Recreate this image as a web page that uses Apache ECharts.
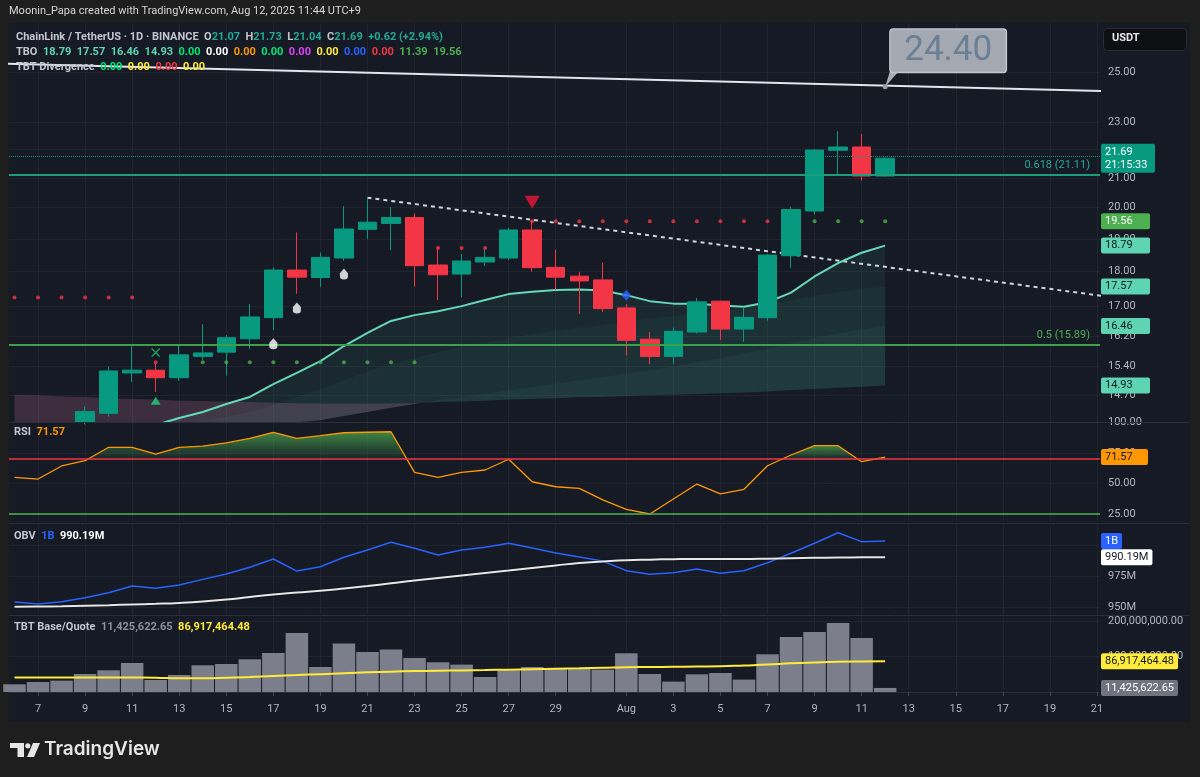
<!DOCTYPE html>
<html>
<head>
<meta charset="utf-8">
<title>LINK/USDT 1D</title>
<script src="https://cdn.jsdelivr.net/npm/echarts@6/dist/echarts.min.js"></script>
<style>
  html, body { margin: 0; padding: 0; background: #1e1e1e; }
  #chart { width: 1200px; height: 777px; }
</style>
</head>
<body>
<div id="chart"></div>
<script>
// day index 0 = Jul 6 2025, the time scale runs on to Aug 21
const days = ['Jul 6','Jul 7','Jul 8','Jul 9','Jul 10','Jul 11','Jul 12','Jul 13','Jul 14','Jul 15','Jul 16','Jul 17','Jul 18','Jul 19','Jul 20','Jul 21','Jul 22','Jul 23','Jul 24','Jul 25','Jul 26','Jul 27','Jul 28','Jul 29','Jul 30','Jul 31','Aug 1','Aug 2','Aug 3','Aug 4','Aug 5','Aug 6','Aug 7','Aug 8','Aug 9','Aug 10','Aug 11','Aug 12'];
const tickDays = [1,3,5,7,9,11,13,15,17,19,21,23,26,28,30,32,34,36,38,40,42,44,46];
const tickLabels = ['7','9','11','13','15','17','19','21','23','25','27','29','Aug','3','5','7','9','11','13','15','17','19','21'];

// candles (first three days sit below the visible price range)
const opens  = [null,null,null,14.06,14.26,15.24,15.31,15.12,15.66,15.77,16.12,16.69,18.05,17.83,18.41,19.30,19.49,19.68,18.20,17.93,18.29,18.41,19.28,18.13,17.87,17.76,16.96,16.11,15.66,16.30,17.15,16.38,16.69,18.48,19.89,21.98,22.10,21.07];
const highs  = [null,null,null,14.42,15.40,15.92,15.51,15.98,16.51,16.22,17.07,18.13,19.20,18.58,20.05,20.30,20.03,19.81,18.75,18.53,18.68,19.35,19.60,18.67,18.00,18.27,17.07,16.30,16.42,17.24,17.16,16.98,18.53,20.03,22.03,22.68,22.58,21.73];
const lows   = [null,null,null,14.00,14.18,15.02,14.77,15.04,15.57,15.17,15.85,16.35,17.36,17.55,18.33,18.99,18.65,17.56,17.18,17.26,18.17,18.35,18.00,17.47,16.79,16.85,15.68,15.46,15.47,16.27,16.09,16.04,16.61,18.12,19.78,21.15,20.91,21.04];
const closes = [null,null,null,14.30,15.29,15.31,15.12,15.70,15.75,16.15,16.71,18.05,17.84,18.43,19.31,19.53,19.68,18.18,17.91,18.32,18.43,19.28,18.12,17.84,17.73,16.94,16.08,15.66,16.32,17.13,16.38,16.70,18.50,19.94,21.99,22.10,21.07,21.69];

// TBO lines, fast to slow
const tboFast = [13.42,13.49,13.56,13.65,13.76,13.88,13.99,14.15,14.29,14.48,14.65,14.96,15.24,15.54,15.93,16.28,16.60,16.76,16.87,17.01,17.18,17.35,17.42,17.47,17.48,17.45,17.32,17.15,17.08,17.08,17.03,16.99,17.12,17.39,17.86,18.26,18.57,18.79];
const tboMid1 = [13.65,13.69,13.74,13.79,13.83,13.90,13.97,14.04,14.09,14.18,14.29,14.46,14.65,14.84,15.06,15.29,15.46,15.62,15.78,15.91,16.03,16.14,16.25,16.34,16.42,16.50,16.58,16.67,16.74,16.81,16.87,16.96,17.07,17.18,17.30,17.41,17.50,17.57];
const tboMid2 = [13.53,13.56,13.58,13.60,13.63,13.65,13.69,13.74,13.79,13.85,13.92,13.99,14.05,14.10,14.20,14.29,14.39,14.48,14.58,14.65,14.73,14.82,14.89,14.98,15.06,15.14,15.23,15.31,15.41,15.52,15.62,15.74,15.85,16.01,16.15,16.27,16.38,16.46];
const tboSlow = [14.70,14.69,14.66,14.65,14.62,14.60,14.59,14.56,14.55,14.54,14.53,14.51,14.50,14.49,14.49,14.49,14.49,14.50,14.53,14.54,14.56,14.59,14.60,14.62,14.64,14.65,14.67,14.69,14.70,14.72,14.74,14.76,14.78,14.82,14.84,14.87,14.90,14.93];

// stop dots [day, price]
const redDots = [[0,17.25],[1,17.25],[2,17.25],[3,17.25],[4,17.25],[5,17.25],[6,15.51],[18,18.72],[19,18.72],[20,18.72],
  [22,19.56],[23,19.56],[24,19.56],[25,19.56],[26,19.56],[27,19.56],[28,19.56],[29,19.56],[30,19.56],[31,19.56],[32,19.56]];
const greenDots = [[8,15.51],[9,15.51],[10,15.51],[11,15.51],[12,15.51],[13,15.51],[14,15.51],[15,15.51],[16,15.51],[17,15.51],
  [34,19.56],[35,19.56],[36,19.56],[37,19.56]];
const stopLevel = 19.56;

// signal markers [day, price]
const crossMarks = [[6,15.76]];
const upMarks = [[6,14.56]];
const dropMarks = [[11,15.99],[12,16.96],[14,17.93]];
const downMarks = [[22,20.18]];
const diamondMarks = [[26,17.32]];

// drawings
const longLine = [[-1,25.36],[47,24.21]];
const calloutPoint = [37,24.40];
const dashedLine = [[15,20.33],[47,17.23]];
const fib618 = 21.11, fib50 = 15.89;
const countdown = '21:15:33';

const priceTicks = [14.7,15.4,16.2,17,18,19,20,21,22,23,25];

// RSI
const rsi = [55.0,53.6,64.3,68.6,79.6,79.6,74.1,79.6,80.6,83.3,86.9,91.9,86.9,89.1,91.5,91.9,92.3,59.1,55.0,59.1,61.0,69.8,51.4,47.3,46.0,36.5,28.8,25.0,37.3,49.5,41.4,45.2,64.5,73.3,80.9,80.9,67.8,71.57];
const rsiHigh = 70, rsiLow = 25;
const rsiTicks = [25,50,75,100];

// OBV, millions
const obv = [954.0,952.4,954.3,957.5,961.5,966.9,965.1,967.7,972.3,976.6,982.0,988.7,979.0,982.5,990.1,996.0,1002.2,997.3,991.9,996.0,998.1,1001.4,997.6,993.5,990.3,987.1,979.3,976.4,977.7,980.6,977.2,979.3,985.7,993.3,1001.4,1009.9,1002.7,1003.2];
const obvMa = [950.2,950.4,950.6,951.0,951.5,952.1,952.6,953.3,954.4,956.0,958.1,960.1,961.7,963.1,964.9,966.9,969.1,971.4,973.4,975.4,977.4,979.4,981.5,983.5,985.5,986.7,987.7,988.2,988.6,988.8,988.8,988.7,989.0,989.4,989.7,989.9,990.1,990.19];
const obvTicks = [950,975,1000];

// TBT base/quote volume, millions
const volume = [21.8,28.2,32.2,50.8,61.3,81.9,33.9,48.0,75.4,79.1,92.4,110.2,166.7,70.6,136.7,113.0,119.8,96.0,83.9,77.4,42.4,61.3,70.6,67.8,67.8,63.3,109.3,50.8,29.4,50.0,53.7,35.0,106.5,155.4,169.5,194.9,152.5,11.42562265];
const volMa = [40.7,40.8,40.9,41.0,41.0,40.8,40.2,38.5,38.5,40.0,42.5,45.5,48.0,50.5,53.0,55.5,57.5,59.0,60.0,61.0,62.0,63.2,64.5,65.8,67.0,68.5,70.0,70.6,71.3,72.0,72.6,75.0,77.5,81.0,83.5,85.5,86.5,86.91746448];
const volTicks = [0,100,200];

// ---------------------------------------------------------------
const ln = Math.log;
const FONT = 'Roboto, "Noto Sans", sans-serif';
const TEAL = '#089981', RED = '#F23645';
const GRID_LINE = '#20242f';
const AXIS_TEXT = '#B2B5BE';
const last = a => a[a.length - 1];

// visible ranges
const X_MIN = -0.234, X_MAX = 46.13;
const PRICE_MIN = 14.058, PRICE_MAX = 27.10;
const RSI_MIN = 19.27, RSI_MAX = 100.3;
const OBV_MIN = 944.4, OBV_MAX = 1016.1;
const VOL_MAX = 211.9;

const pairs = arr => arr.map((v, i) => [i, v]);
const lnPairs = arr => arr.map(p => [p[0], ln(p[1])]);
const fmtBig = v => (v * 1e6).toLocaleString('en-US', { minimumFractionDigits: 2, maximumFractionDigits: 2 });

function xAxisFor(gridIndex, showLabels) {
  return {
    type: 'value', gridIndex: gridIndex, min: X_MIN, max: X_MAX,
    axisLine: { show: showLabels, lineStyle: { color: '#2A2E39' } },
    axisTick: { show: showLabels, customValues: tickDays, length: 4, lineStyle: { color: '#434651' } },
    axisLabel: {
      show: showLabels, customValues: tickDays,
      formatter: v => tickLabels[tickDays.indexOf(Math.round(v))],
      color: AXIS_TEXT, fontSize: 11, fontFamily: FONT, margin: 12
    },
    splitLine: { show: true, lineStyle: { color: GRID_LINE } }
  };
}
function yTicks(gridIndex, min, max, ticks, fmt) {
  return {
    type: 'value', gridIndex: gridIndex, position: 'right', min: min, max: max,
    axisLine: { show: false }, axisTick: { show: false, customValues: ticks },
    axisLabel: { customValues: ticks, formatter: fmt, color: AXIS_TEXT, fontSize: 11, fontFamily: FONT, margin: 8 },
    splitLine: { show: true, lineStyle: { color: GRID_LINE } }
  };
}
function yBox(gridIndex, min, max, vals, fmt, bg, fg, width) {
  return {
    type: 'value', gridIndex: gridIndex, position: 'right', min: min, max: max,
    axisLine: { show: false }, axisTick: { show: false }, splitLine: { show: false },
    axisLabel: {
      customValues: vals, formatter: fmt, color: fg, backgroundColor: bg,
      padding: [2, 4, 1, 4], borderRadius: 2, fontSize: 11, fontFamily: FONT,
      margin: 1, width: width, lineHeight: 13
    }
  };
}

// filled bands between two TBO lines, teal while the faster is on top, pink otherwise
function band(fast, slow, teal, pink) {
  const n = fast.length;
  const up = [];
  for (let i = 0; i < n - 1; i++) up.push(fast[i] + fast[i + 1] >= slow[i] + slow[i + 1]);
  const runs = [];
  let s = 0;
  for (let i = 1; i <= n - 1; i++) {
    if (i === n - 1 || up[i] !== up[s]) { runs.push([s, i, up[s] ? 1 : 0]); s = i; }
  }
  return {
    type: 'custom', xAxisIndex: 0, yAxisIndex: 0, clip: true, silent: true, z: 1,
    encode: { x: [0, 1] },
    renderItem: function (params, api) {
      const a = api.value(0), b = api.value(1), isUp = api.value(2);
      const pts = [];
      for (let i = a; i <= b; i++) pts.push(api.coord([i, ln(fast[i])]));
      for (let i = b; i >= a; i--) pts.push(api.coord([i, ln(slow[i])]));
      return { type: 'polygon', shape: { points: pts }, style: { fill: isUp ? teal : pink } };
    },
    data: runs
  };
}

// green fill of the RSI above the upper level
function rsiOverFill() {
  const fill = new echarts.graphic.LinearGradient(0, 0, 0, 1, [
    { offset: 0, color: 'rgba(76,175,80,0.72)' }, { offset: 1, color: 'rgba(76,175,80,0.06)' }]);
  return {
    type: 'custom', xAxisIndex: 1, yAxisIndex: 4, clip: true, silent: true, z: 1,
    data: [[0, rsiHigh]],
    renderItem: function (params, api) {
      const children = [];
      let run = null;
      const cross = i => i - 1 + (rsiHigh - rsi[i - 1]) / (rsi[i] - rsi[i - 1]);
      for (let i = 0; i < rsi.length; i++) {
        const above = rsi[i] >= rsiHigh;
        if (above && !run) run = [i > 0 ? [cross(i), rsiHigh] : [i, rsiHigh]];
        if (above) run.push([i, rsi[i]]);
        if (run && (!above || i === rsi.length - 1)) {
          run.push(above ? [i, rsiHigh] : [cross(i), rsiHigh]);
          children.push({ type: 'polygon', shape: { points: run.map(p => api.coord(p)) }, style: { fill: fill } });
          run = null;
        }
      }
      return { type: 'group', children: children };
    }
  };
}

function markerSeries(data, symbol, size, color, extra) {
  return Object.assign({
    type: 'scatter', xAxisIndex: 0, yAxisIndex: 0, z: 6, silent: true,
    symbol: symbol, symbolSize: size, itemStyle: { color: color },
    data: lnPairs(data)
  }, extra || {});
}

const candleData = [];
for (let i = 0; i < days.length; i++) {
  if (opens[i] == null) continue;
  candleData.push([i, ln(opens[i]), ln(closes[i]), ln(lows[i]), ln(highs[i])]);
}

const lnMin = ln(PRICE_MIN), lnMax = ln(PRICE_MAX);
const PINK = 'rgba(215,125,170,0.20)';
const richBase = c => ({ color: c, fontSize: 11, fontFamily: FONT });

const option = {
  animation: false,
  backgroundColor: '#1e1e1e',
  textStyle: { fontFamily: FONT },
  grid: [
    { left: 9, right: 100, top: 23, height: 399 },
    { left: 9, right: 100, top: 422, height: 99 },
    { left: 9, right: 100, top: 525, height: 89 },
    { left: 9, right: 100, top: 617, height: 75 }
  ],
  xAxis: [xAxisFor(0, false), xAxisFor(1, false), xAxisFor(2, false), xAxisFor(3, true)],
  yAxis: [
    yTicks(0, lnMin, lnMax, priceTicks.map(ln), v => Math.exp(v).toFixed(2)),
    yBox(0, lnMin, lnMax, [ln(last(closes))], v => Math.exp(v).toFixed(2) + '\n' + countdown, TEAL, '#ffffff', 46),
    yBox(0, lnMin, lnMax, [ln(stopLevel)], v => Math.exp(v).toFixed(2), '#4CAF50', '#ffffff', 41),
    yBox(0, lnMin, lnMax, [last(tboFast), last(tboMid1), last(tboMid2), last(tboSlow)].map(ln), v => Math.exp(v).toFixed(2), '#5FD4B2', '#131722', 41),
    yTicks(1, RSI_MIN, RSI_MAX, rsiTicks, v => v.toFixed(2)),
    yBox(1, RSI_MIN, RSI_MAX, [last(rsi)], v => v.toFixed(2), '#FF9800', '#131722', 39),
    yTicks(2, OBV_MIN, OBV_MAX, obvTicks, v => v >= 1000 ? '1B' : v + 'M'),
    yBox(2, OBV_MIN, OBV_MAX, [last(obv)], () => '1B', '#2962FF', '#ffffff', null),
    yBox(2, OBV_MIN, OBV_MAX, [last(obvMa)], v => v.toFixed(2) + 'M', '#ffffff', '#131722', null),
    yTicks(3, 0, VOL_MAX, volTicks, fmtBig),
    yBox(3, 0, VOL_MAX, [last(volMa)], fmtBig, '#FFEB3B', '#131722', null),
    yBox(3, 0, VOL_MAX, [last(volume)], fmtBig, '#70737E', '#ffffff', null)
  ],
  title: [
    { text: 'Moonin_Papa created with TradingView.com, Aug 12, 2025 11:44 UTC+9', left: 9, top: 6, padding: 0,
      textStyle: { color: '#D6D6D6', fontSize: 11, fontWeight: 'normal', fontFamily: FONT } },
    { text: '{l|ChainLink / TetherUS · 1D · BINANCE}  {l|O}{g|21.07}  {l|H}{g|21.73}  {l|L}{g|21.04}  {l|C}{g|21.69}  {g|+0.62 (+2.94%)}',
      left: 16, top: 32, padding: 0,
      textStyle: { fontSize: 11, rich: { l: richBase('#C3C6CE'), g: richBase('#22AB94') } } },
    { text: '{l|TBO}  {t|18.79}  {t|17.57}  {t|16.46}  {t|14.93}  {a|0.00}  {w|0.00}  {o|0.00}  {a|0.00}  {m|0.00}  {y|0.00}  {b|0.00}  {r|0.00}  {k|11.39}  {k|19.56}',
      left: 16, top: 47, padding: 0,
      textStyle: { fontSize: 11, rich: {
        l: richBase('#C3C6CE'), t: richBase('#5FD4B2'), a: richBase('#00E676'), w: richBase('#FFFFFF'),
        o: richBase('#FF9800'), m: richBase('#E040FB'), y: richBase('#FFEB3B'), b: richBase('#2962FF'),
        r: richBase('#F23645'), k: richBase('#4CAF50') } } },
    { text: '{l|TBT Divergence}  {a|0.00}  {y|0.00}  {r|0.00}  {y|0.00}',
      left: 16, top: 62, padding: 0,
      textStyle: { fontSize: 11, rich: { l: richBase('#C3C6CE'), a: richBase('#00E676'), y: richBase('#FFEB3B'), r: richBase('#F23645') } } },
    { text: '{l|RSI}  {o|71.57}', left: 14, top: 427, padding: 0,
      textStyle: { fontSize: 11, rich: { l: richBase('#C3C6CE'), o: richBase('#FF9800') } } },
    { text: '{l|OBV}  {b|1B}  {w|990.19M}', left: 14, top: 531, padding: 0,
      textStyle: { fontSize: 11, rich: { l: richBase('#C3C6CE'), b: richBase('#2962FF'), w: richBase('#FFFFFF') } } },
    { text: '{l|TBT Base/Quote}  {g|11,425,622.65}  {y|86,917,464.48}', left: 14, top: 622, padding: 0,
      textStyle: { fontSize: 11, rich: { l: richBase('#C3C6CE'), g: richBase('#8E919A'), y: richBase('#FFEB3B') } } }
  ],
  graphic: [
    { type: 'rect', z: -10, silent: true, shape: { x: 9, y: 23, width: 1181, height: 699 }, style: { fill: '#161A25' } },
    { type: 'line', z: 50, silent: true, shape: { x1: 9, y1: 422.5, x2: 1190, y2: 422.5 }, style: { stroke: '#2A2E39', lineWidth: 1 } },
    { type: 'line', z: 50, silent: true, shape: { x1: 9, y1: 523.5, x2: 1190, y2: 523.5 }, style: { stroke: '#2A2E39', lineWidth: 1 } },
    { type: 'line', z: 50, silent: true, shape: { x1: 9, y1: 615.5, x2: 1190, y2: 615.5 }, style: { stroke: '#2A2E39', lineWidth: 1 } },
    { type: 'rect', z: 50, silent: true, shape: { x: 1103.5, y: 28.5, width: 83, height: 22, r: 4 }, style: { fill: '#0E0F12', stroke: '#2A2C31', lineWidth: 1 } },
    { type: 'text', z: 51, silent: true, x: 1112, y: 33, style: { text: 'USDT', fill: '#E6E6E6', font: 'bold 11px Roboto' } },
    // TradingView logo
    { type: 'rect', silent: true, shape: { x: 10, y: 743, width: 14, height: 5 }, style: { fill: '#E6E6E6' } },
    { type: 'rect', silent: true, shape: { x: 17.5, y: 743, width: 6.5, height: 14 }, style: { fill: '#E6E6E6' } },
    { type: 'circle', silent: true, shape: { cx: 27.8, cy: 745.8, r: 2.6 }, style: { fill: '#E6E6E6' } },
    { type: 'polygon', silent: true, shape: { points: [[33, 743], [40, 743], [34, 757], [27, 757]] }, style: { fill: '#E6E6E6' } },
    { type: 'text', silent: true, x: 44, y: 740, style: { text: 'TradingView', fill: '#E6E6E6', font: '600 19px Inter' } }
  ],
  series: [
    band(tboFast, tboMid1, 'rgba(72,190,160,0.09)', PINK),
    band(tboMid1, tboMid2, 'rgba(72,190,160,0.14)', PINK),
    band(tboMid2, tboSlow, 'rgba(72,190,160,0.19)', PINK),
    {
      type: 'line', name: 'TBO fast', xAxisIndex: 0, yAxisIndex: 0, z: 3, silent: true,
      showSymbol: false, lineStyle: { color: '#66D9B9', width: 2 },
      data: lnPairs(pairs(tboFast))
    },
    {
      type: 'line', name: 'long trend', xAxisIndex: 0, yAxisIndex: 0, z: 3, silent: true,
      showSymbol: false, lineStyle: { color: '#E3E5EA', width: 2 },
      data: lnPairs(longLine),
      markPoint: {
        silent: true,
        data: [
          { coord: [calloutPoint[0], ln(calloutPoint[1])], symbol: 'path://M0,16L5,0L14,0Z', symbolSize: [14, 16], symbolOffset: [7, -8],
            itemStyle: { color: '#A9ADB5' }, label: { show: false } },
          { coord: [calloutPoint[0], ln(calloutPoint[1])], symbol: 'circle', symbolSize: 5,
            itemStyle: { color: '#9A9EA6' },
            label: { show: true, position: 'inside', offset: [63, -36], formatter: calloutPoint[1].toFixed(2),
              fontSize: 35, fontFamily: FONT, color: '#6B8094', backgroundColor: 'rgba(172,176,184,0.95)',
              borderColor: '#C9CCD2', borderWidth: 1, borderRadius: 3, padding: [5, 14, 3, 14] } }
        ]
      }
    },
    {
      type: 'line', name: 'dashed trend', xAxisIndex: 0, yAxisIndex: 0, z: 2, silent: true,
      showSymbol: false, lineStyle: { color: '#D1D4DC', width: 2, type: [4, 4] },
      data: lnPairs(dashedLine)
    },
    {
      type: 'candlestick', name: 'LINKUSDT', xAxisIndex: 0, yAxisIndex: 0, z: 4, silent: true,
      barWidth: 19,
      encode: { x: 0, y: [1, 2, 3, 4] },
      itemStyle: { color: TEAL, color0: RED, borderColor: TEAL, borderColor0: RED, borderWidth: 1 },
      data: candleData,
      markLine: {
        silent: true, symbol: ['none', 'none'],
        data: [
          { yAxis: ln(last(closes)), lineStyle: { color: TEAL, type: 'dotted', width: 1 }, label: { show: false } },
          { yAxis: ln(fib618), lineStyle: { color: '#1B9E77', type: 'solid', width: 2 },
            label: { show: true, position: 'insideEndTop', formatter: '0.618 (' + fib618.toFixed(2) + ')', color: '#26A69A', fontSize: 11, fontFamily: FONT, distance: [10, 4] } },
          { yAxis: ln(fib50), lineStyle: { color: '#3DA047', type: 'solid', width: 2 },
            label: { show: true, position: 'insideEndTop', formatter: '0.5 (' + fib50.toFixed(2) + ')', color: '#4CAF50', fontSize: 11, fontFamily: FONT, distance: [10, 4] } }
        ]
      }
    },
    markerSeries(redDots, 'circle', 4, '#F23645', { z: 5 }),
    markerSeries(greenDots, 'circle', 4, '#4CAF50', { z: 5 }),
    markerSeries(crossMarks, 'path://M1,0L5,4L9,0L10,1L6,5L10,9L9,10L5,6L1,10L0,9L4,5L0,1Z', 9, '#1FD17A'),
    markerSeries(upMarks, 'triangle', [10, 8], '#1FD17A'),
    markerSeries(dropMarks, 'path://M5,0L9,5L9,9Q9,12 5,12Q1,12 1,9L1,5Z', [8, 11], '#FFFFFF'),
    markerSeries(downMarks, 'triangle', [15, 13], '#F0143C', { symbolRotate: 180 }),
    markerSeries(diamondMarks, 'diamond', [10, 11], '#2962FF'),

    // RSI
    rsiOverFill(),
    {
      type: 'line', name: 'RSI', xAxisIndex: 1, yAxisIndex: 4, z: 4, silent: true, showSymbol: false,
      lineStyle: { color: '#FF9800', width: 1.3 },
      data: pairs(rsi),
      markLine: {
        silent: true, symbol: ['none', 'none'], label: { show: false },
        data: [
          { yAxis: rsiHigh, lineStyle: { color: '#F23645', type: 'solid', width: 1.5 } },
          { yAxis: rsiLow, lineStyle: { color: '#4CAF50', type: 'solid', width: 1.5 } }
        ]
      }
    },

    // OBV
    {
      type: 'line', name: 'OBV', xAxisIndex: 2, yAxisIndex: 6, silent: true, showSymbol: false,
      lineStyle: { color: '#2962FF', width: 1.5 }, data: pairs(obv)
    },
    {
      type: 'line', name: 'OBV MA', xAxisIndex: 2, yAxisIndex: 6, silent: true, showSymbol: false, smooth: true,
      lineStyle: { color: '#E6E6E6', width: 2, shadowColor: 'rgba(0,0,0,0.6)', shadowBlur: 2 }, data: pairs(obvMa)
    },

    // TBT base/quote volume
    {
      type: 'bar', name: 'Volume', xAxisIndex: 3, yAxisIndex: 9, silent: true,
      barWidth: 22.5, itemStyle: { color: '#7C7F8B' }, data: pairs(volume)
    },
    {
      type: 'line', name: 'Volume MA', xAxisIndex: 3, yAxisIndex: 9, silent: true, showSymbol: false, smooth: true, z: 4,
      lineStyle: { color: '#FFEB3B', width: 2 }, data: pairs(volMa)
    }
  ]
};

const chart = echarts.init(document.getElementById('chart'));
chart.setOption(option);
</script>
</body>
</html>
